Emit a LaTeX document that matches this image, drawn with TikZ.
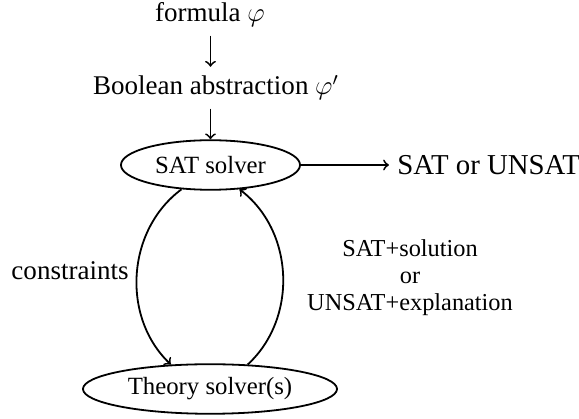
\documentclass[tikz,border=0pt]{standalone}
\usepackage{amsmath,amssymb}
\usepackage{fontspec}
\setmainfont{Liberation Serif}
\usetikzlibrary{shapes.geometric,calc}

\tikzset{
  solver/.style={draw, ellipse, inner sep=1pt, font=\fontsize{11}{13}\selectfont},
  txt/.style={font=\fontsize{12}{14}\selectfont},
}

\begin{document}
\begin{tikzpicture}[x=0.444pt, y=-0.444pt, thick]
    \useasboundingbox (0,0) rectangle (579,419);

    % input formula and its abstraction
    \node[txt, anchor=base] (formula) at (210, 22) {formula $\varphi$};
    \node[txt, anchor=base] (bool) at (216, 95) {Boolean abstraction $\varphi'$};

    % the two solvers
    \node[solver, minimum width=79.5pt, minimum height=22pt] (sat) at (210.5, 165) {SAT solver};
    \node[solver, minimum width=112.8pt, minimum height=22pt] (theory) at (210, 389) {Theory solver(s)};

    % result
    \node[txt, font=\fontsize{12.8}{14}\selectfont, anchor=west] (result) at (389, 165) {SAT or UNSAT};

    % arrows down to the SAT solver
    \draw[->] (formula.south -| sat) -- (bool.north -| sat);
    \draw[->] (bool.south -| sat) -- (sat.north);
    \draw[->] (sat.east) -- (result.west);

    % exchange between the solvers
    \draw[->] (sat.220) to[bend right=50] (theory.148);
    \draw[->] (theory.33) to[bend right=50] (sat.320);

    % labels of the exchange
    \node[txt, anchor=base east] (cons) at (137, 280) {constraints};
    \node[align=center, font=\fontsize{10.8}{12}\selectfont] (answer) at (410, 278)
        {SAT+solution\\or\\UNSAT+explanation};
\end{tikzpicture}
\end{document}
